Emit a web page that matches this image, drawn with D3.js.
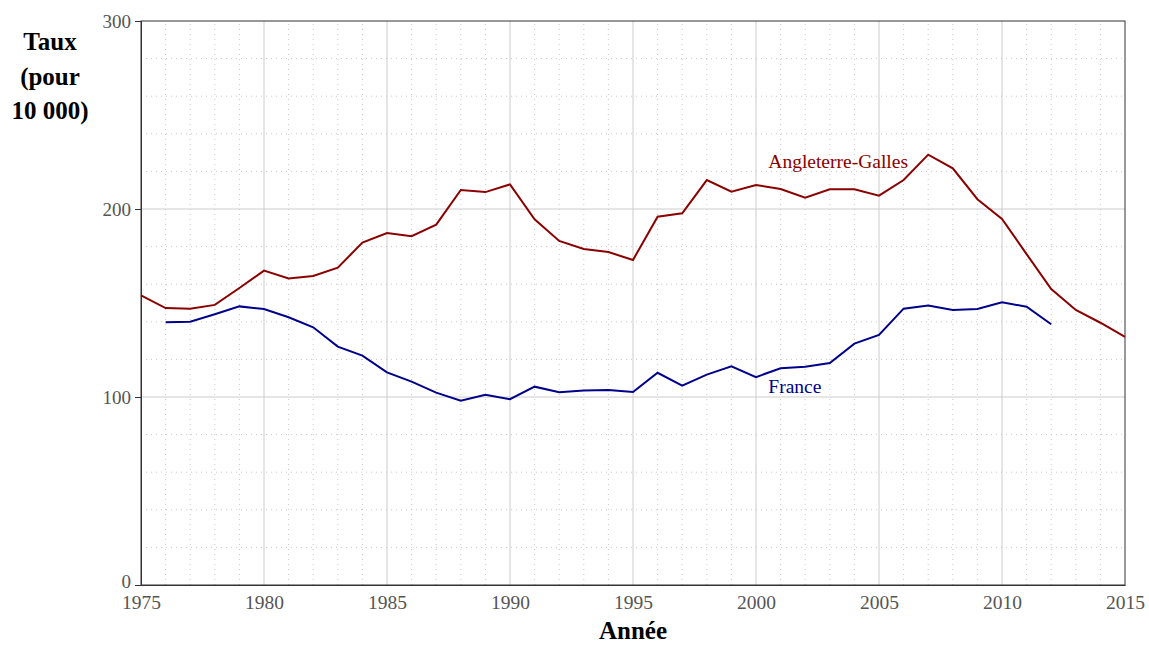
<!DOCTYPE html>
<html><head><meta charset="utf-8">
<script src="https://cdn.jsdelivr.net/npm/d3@7"></script>
<style>body{margin:0;background:#fff}svg{display:block}</style>
</head><body><svg id="c" width="1149" height="646"></svg>
<script>
const years = d3.range(1975, 2016);
const ewValues = [154,147.3,147,149,158,167.2,163.1,164.4,168.8,182.1,187.2,185.5,191.7,210.1,209,213.1,194.5,183,178.7,177.1,172.9,195.9,197.7,215.4,209.2,212.8,210.6,206,210.5,210.5,207.1,215.4,228.9,221.6,205.2,194.7,176,157.4,146.3,139.5,132];
const frYears = d3.range(1976, 2013);
const frValues = [139.7,140,144,148.2,146.8,142.4,137.1,126.8,122,113.1,108.2,102.3,98,101.2,98.8,105.5,102.5,103.4,103.7,102.7,112.9,106,111.9,116.3,110.6,115.3,116.1,118.1,128.4,133,147,148.6,146.3,146.8,150.4,148,138.7];
const xTicks = [1975,1980,1985,1990,1995,2000,2005,2010,2015];
const yTicks = [0,100,200,300];
const seriesNames = ["Angleterre-Galles","France"];
const labelPos = [[2000.5,222],[2000.5,102]];

const svg = d3.select("#c");
const m = {l:141, r:1149-1125, t:21, b:646-585};
const W = 1149, H = 646;
const x = d3.scaleLinear().domain([1975,2015]).range([m.l, W-m.r]);
const y = d3.scaleLinear().domain([0,300]).range([H-m.b, m.t]);
const font = "'Liberation Serif', 'DejaVu Serif', serif";

// minor grid
const g = svg.append("g");
g.selectAll(".vx").data(d3.range(1976,2015).filter(v=>v%5)).join("line")
  .attr("x1",d=>x(d)).attr("x2",d=>x(d)).attr("y1",y(0)).attr("y2",y(300))
  .attr("stroke","#c8c8c8").attr("stroke-width",1).attr("stroke-dasharray","1,4");
g.selectAll(".hy").data(d3.range(20,300,20).filter(v=>v%100)).join("line")
  .attr("y1",d=>y(d)).attr("y2",d=>y(d)).attr("x1",x(1975)).attr("x2",x(2015))
  .attr("stroke","#c8c8c8").attr("stroke-width",1).attr("stroke-dasharray","1,4");
// major grid
g.selectAll(".mx").data(xTicks.slice(1,-1)).join("line")
  .attr("x1",d=>x(d)).attr("x2",d=>x(d)).attr("y1",y(0)).attr("y2",y(300))
  .attr("stroke","#cccccc").attr("stroke-width",1);
g.selectAll(".my").data(yTicks.slice(1,-1)).join("line")
  .attr("y1",d=>y(d)).attr("y2",d=>y(d)).attr("x1",x(1975)).attr("x2",x(2015))
  .attr("stroke","#cccccc").attr("stroke-width",1);

// frame
svg.append("rect").attr("x",x(1975)).attr("y",y(300)).attr("width",x(2015)-x(1975)).attr("height",y(0)-y(300))
  .attr("fill","none").attr("stroke","#333").attr("stroke-width",1);

// axes
const xa = svg.append("g").attr("transform",`translate(0,${y(0)})`)
  .call(d3.axisBottom(x).tickValues(xTicks).tickFormat(d3.format("d")).tickSize(0).tickPadding(10));
const ya = svg.append("g").attr("transform",`translate(${x(1975)},0)`)
  .call(d3.axisLeft(y).tickValues(yTicks).tickSize(6).tickPadding(4));
[xa,ya].forEach(a=>{
  a.select(".domain").attr("stroke","#333");
  a.selectAll(".tick line").attr("stroke","#333");
  a.selectAll("text").attr("font-family",font).attr("font-size",19.5).attr("fill","#555");
});
ya.selectAll("text").attr("font-size",19);
ya.selectAll(".tick").filter(d=>d===0).select("text").attr("y",-4);

// lines
const line = d3.line().x(d=>x(d[0])).y(d=>y(d[1]));
const colors = ["#8b0000","#00008b"];
svg.append("path").datum(years.map((yr,i)=>[yr,ewValues[i]])).attr("d",line)
  .attr("fill","none").attr("stroke",colors[0]).attr("stroke-width",2);
svg.append("path").datum(frYears.map((yr,i)=>[yr,frValues[i]])).attr("d",line)
  .attr("fill","none").attr("stroke",colors[1]).attr("stroke-width",2);

seriesNames.forEach((n,i)=>{
  svg.append("text").attr("x",x(labelPos[i][0])).attr("y",y(labelPos[i][1]))
    .attr("font-family",font).attr("font-size",19.5).attr("fill",colors[i]).text(n);
});

// titles
svg.append("text").attr("x",(x(1975)+x(2015))/2).attr("y",639).attr("text-anchor","middle")
  .attr("font-family",font).attr("font-size",25).attr("font-weight","bold").text("Année");
const yt = svg.append("text").attr("text-anchor","middle").attr("font-family",font)
  .attr("font-size",25).attr("font-weight","bold");
["Taux","(pour","10 000)"].forEach((t,i)=>yt.append("tspan").attr("x",50).attr("y",50+i*34.5).text(t));
</script></body></html>
